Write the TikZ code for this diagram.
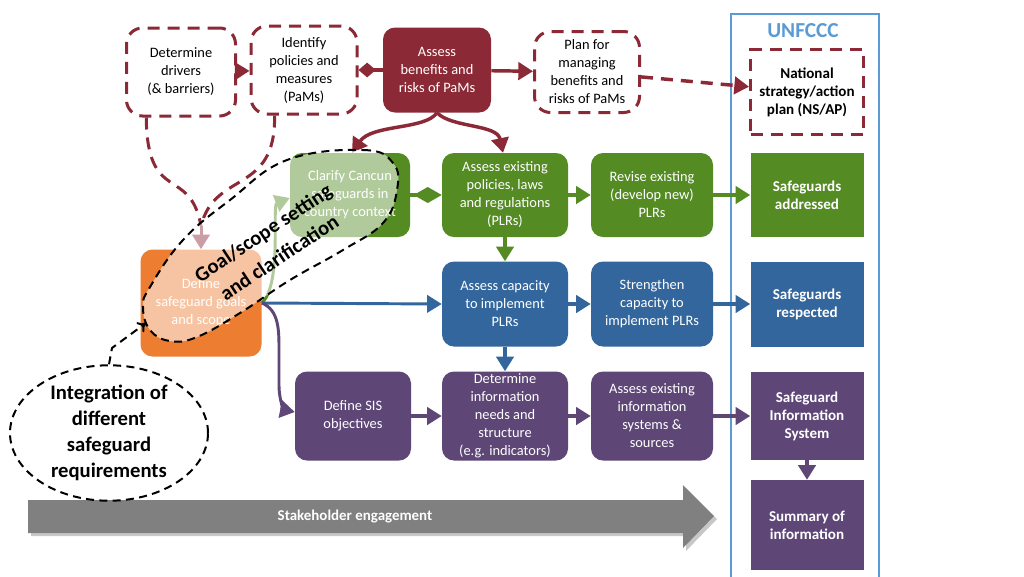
\documentclass[tikz,border=0pt]{standalone}
\usepackage{fontspec}
\setmainfont{Carlito}
\usetikzlibrary{arrows.meta,calc,shapes.geometric}
\definecolor{dred}{HTML}{8B2A36}
\definecolor{grn}{HTML}{548B23}
\definecolor{blu}{HTML}{33669C}
\definecolor{pur}{HTML}{5E4677}
\definecolor{org}{HTML}{ED7D31}
\definecolor{ublue}{HTML}{5B9BD5}
\definecolor{gry}{HTML}{808080}
\begin{document}
\begin{tikzpicture}[x=0.75pt,y=-0.75pt,
 txt/.style={font=\fontsize{10.8}{13.5}\selectfont, align=center},
 sz/.style 2 args={minimum width=#1*0.75pt, minimum height=#2*0.75pt, inner sep=0pt},
 fbox/.style={txt, rounded corners=9pt, text=white, fill=#1},
 dbox/.style={txt, draw=dred, dash pattern=on 9pt off 6pt, line width=2.25pt, rounded corners=12pt},
 ubox/.style={txt, font=\fontsize{11.3}{13.5}\selectfont\bfseries, fill=#1, text=white},
 arr/.style={draw=#1, line width=2.6pt, -{Triangle[length=11pt,width=13pt]}},
 dashln/.style={dash pattern=on 9pt off 6pt},
 blackdash/.style={black, line width=1.5pt, dash pattern=on 6pt off 4pt},
 bigbold/.style={font=\fontsize{15.5}{19.5}\selectfont\bfseries, align=center},
 ]
\fill[white] (0,0) rectangle (1024,576);
\useasboundingbox (0,0) rectangle (1024,576);

% UNFCCC frame
\draw[ublue, line width=1.5pt] (731,14) rectangle (879,590);
\node[text=ublue, font=\fontsize{16}{18}\selectfont\bfseries] (un) at (803,31) {UNFCCC};

% top row
\node[dbox, sz={109}{88}] (b1) at (181,72) {Determine\\drivers\\(\& barriers)};
\node[dbox, sz={106}{88}] (b2) at (304,70) {Identify\\policies and\\measures\\(PaMs)};
\node[fbox=dred, sz={108}{85}] (b3) at (437,70) {Assess\\benefits and\\risks of PaMs};
\node[dbox, sz={105}{81}] (b4) at (587,72) {Plan for\\managing\\benefits and\\risks of PaMs};
\node[dbox, rounded corners=0pt, font=\fontsize{11.3}{13.5}\selectfont\bfseries, sz={113}{85}] (u1) at (807,92) {National\\strategy/action\\plan (NS/AP)};

% right column
\node[ubox=grn, sz={113}{84}] (u2) at (807,195) {Safeguards\\addressed};
\node[ubox=blu, sz={113}{85}] (u3) at (807,304) {Safeguards\\respected};
\node[ubox=pur, sz={113}{88}] (u4) at (807,416) {Safeguard\\Information\\System};
\node[ubox=pur, sz={113}{90}] (u5) at (807,525) {Summary of\\information};

% rows
\node[fbox=grn, sz={120}{84}] (g1) at (350,195) {Clarify Cancun\\safeguards in\\country context};
\node[fbox=grn, sz={126}{84}] (g2) at (505,195) {Assess existing\\policies, laws\\and regulations\\(PLRs)};
\node[fbox=grn, sz={122}{84}] (g3) at (652,195) {Revise existing\\(develop new)\\PLRs};
\node[fbox=blu, sz={126}{85}] (c1) at (505,304) {Assess capacity\\to implement\\PLRs};
\node[fbox=blu, sz={122}{85}] (c2) at (652,304) {Strengthen\\capacity to\\implement PLRs};
\node[fbox=pur, sz={116}{89}] (p1) at (353,416) {Define SIS\\objectives};
\node[fbox=pur, sz={126}{89}] (p2) at (505,416) {Determine\\information\\needs and\\structure\\(e.g. indicators)};
\node[fbox=pur, sz={122}{89}] (p3) at (652,416) {Assess existing\\information\\systems \&\\sources};
\node[fbox=org, sz={121}{107}] (o1) at (201,303) {Define\\safeguard goals\\and scope};

% straight arrows
\draw[arr=dred, dashln] (b1) -- (b2);
\draw[dred, line width=2.6pt, -{Diamond[length=13pt,width=11pt]}] (b3.west) -- (b2.east);
\draw[arr=dred] (b3) -- (b4);
\draw[arr=dred, dashln] (b4) -- (u1);
\draw[grn, line width=2.6pt, -{Diamond[length=21pt,width=12pt]}] (g1.east) -- (g2.west);
\draw[arr=grn] (g2) -- (g3);
\draw[arr=grn] (g3) -- (u2);
\draw[arr=grn] (g2) -- (c1);
\draw[arr=blu] (c1) -- (c2);
\draw[arr=blu] (c2) -- (u3);
\draw[arr=blu] (c1) -- (p2);
\draw[arr=pur] (p1) -- (p2);
\draw[arr=pur] (p2) -- (p3);
\draw[arr=pur] (p3) -- (u4);
\draw[arr=pur] (u4) -- (u5);

% curved red arrows
\draw[arr=dred] (b3.south) .. controls (425,130) and (372,124) .. ($(g1.north)+(2,0)$);
\draw[arr=dred] (b3.south) .. controls (452,128) and (497,124) .. ($(g2.north)-(2,0)$);

% dashed merge into define
\coordinate (m) at (201,226);
\draw[dred, line width=2.25pt, dashln] ($(b1.south west)!0.19!(b1.south east)$) .. controls (147,205) and (190,165) .. (m);
\draw[dred, line width=2.25pt, dashln] ($(b2.south west)!0.23!(b2.south east)$) .. controls (276,195) and (215,170) .. (m);
\draw[arr=dred, line width=2.25pt] (m) -- (o1.north);

% arrows out of define
\draw[arr=grn, line width=2.2pt] (o1.east) .. controls (282,285) and (272,205) .. ($(g1.west)+(0,3)$);
\draw[arr=blu, line width=2.2pt] (o1.east) -- (c1.west);
\draw[arr=pur, line width=2.2pt] (o1.east) .. controls (279,310) and (279,330) .. (279,350) -- (279,385) .. controls (279,402) and (285,410) .. ($(p1.west)+(0,-4)$);

% stakeholder arrow
\fill[black!22] (31,503) -- (686,503) -- (686,488) -- (717,519) -- (686,551) -- (686,536) -- (31,536) -- cycle;
\fill[gry] (28,500) -- (683,500) -- (683,485) -- (714,516) -- (683,548) -- (683,533) -- (28,533) -- cycle;
\node[text=white, font=\fontsize{11.2}{13}\selectfont\bfseries] (se) at (355,517) {Stakeholder engagement};

% goal/scope blob
\draw[blackdash, fill=white, fill opacity=0.55] plot[smooth cycle, tension=0.7] coordinates {(287,160) (363,150) (393,163) (397,190) (383,223) (343,250) (290,280) (240,313) (197,337) (170,341) (150,330) (143,307) (150,287) (183,240) (230,200)};
\node[bigbold, font=\fontsize{15.5}{22}\selectfont\bfseries, rotate=33.6] (goal) at (271,245) {Goal/scope setting\\and clarification};

% integration ellipse
\node[ellipse, blackdash, draw, bigbold, minimum width=198*0.75pt, minimum height=122*0.75pt, inner sep=0pt] (int) at (109,433) {Integration of\\different\\safeguard\\requirements};
\coordinate (bt) at (146,323);
\draw[blackdash, -{To[length=6pt,width=9pt]}] (int.north) -- (112,348) -- (bt);
\end{tikzpicture}
\end{document}
